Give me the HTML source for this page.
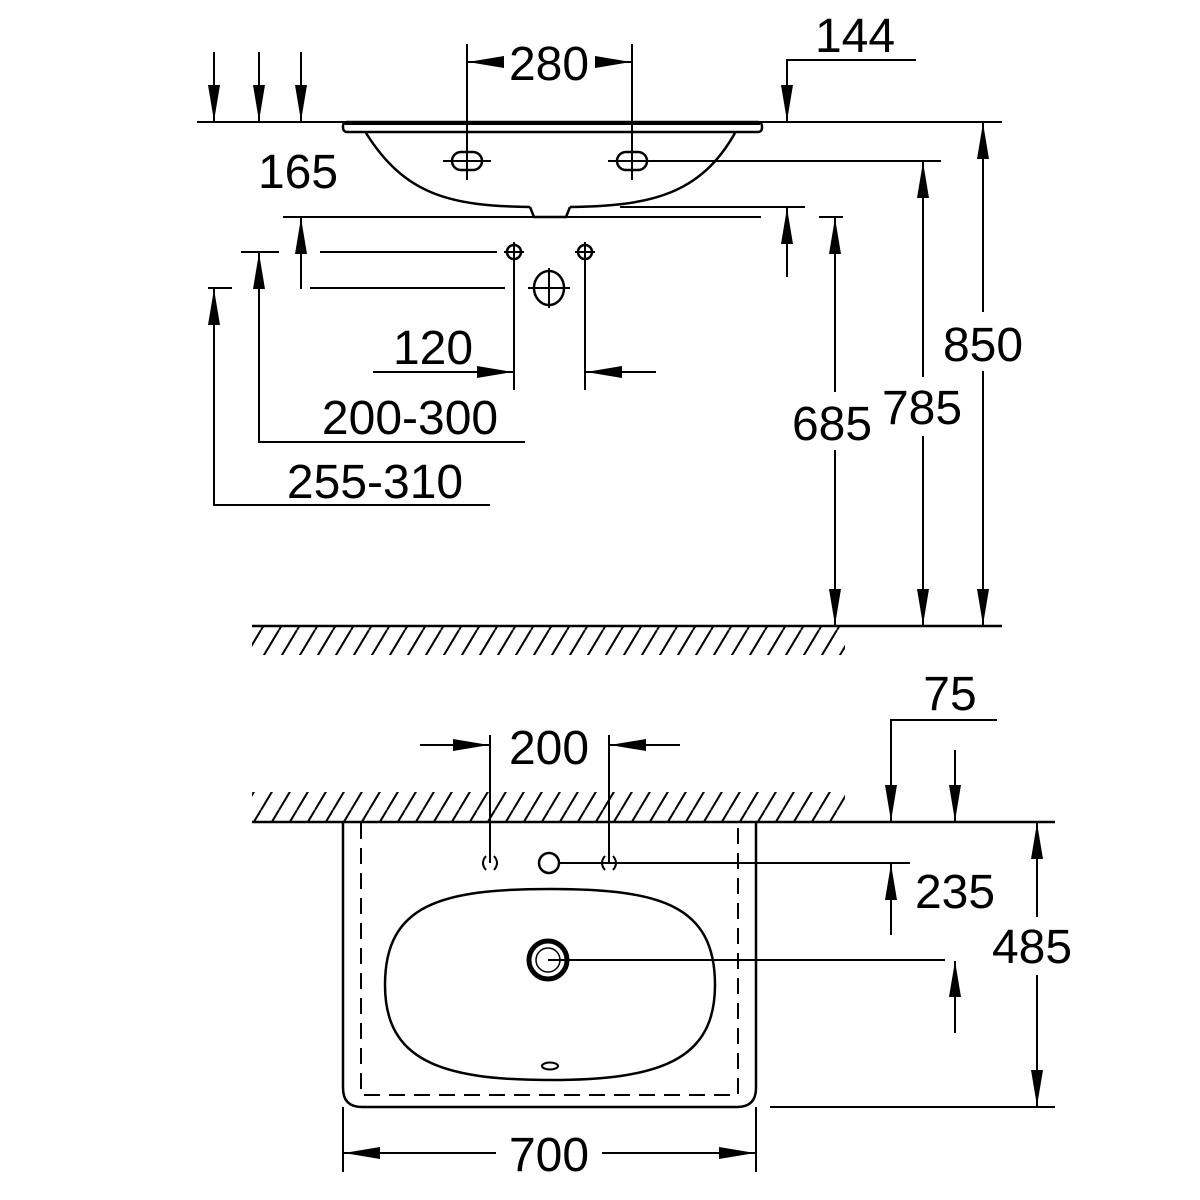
<!DOCTYPE html>
<html><head><style>
html,body{margin:0;padding:0;background:#fff;}
svg{display:block;}
text{font-family:"Liberation Sans",Arial,sans-serif;font-size:48px;fill:#000;text-anchor:middle;}
</style></head><body>
<svg width="1200" height="1200" viewBox="0 0 1200 1200" xmlns="http://www.w3.org/2000/svg">
<defs>
<marker id="a" viewBox="0 0 36 12" refX="36" refY="6" markerWidth="36" markerHeight="12" markerUnits="userSpaceOnUse" orient="auto">
<path d="M0,0 L36,6 L0,12 Z" fill="#000"/>
</marker>
<pattern id="h" width="18" height="30" patternUnits="userSpaceOnUse">
<line x1="-9" y1="30" x2="9" y2="0" stroke="#000" stroke-width="2"/>
<line x1="9" y1="30" x2="27" y2="0" stroke="#000" stroke-width="2"/>
</pattern>
</defs>
<g stroke="#000" stroke-width="2" fill="none">
<line x1="197" y1="122" x2="1002" y2="122"/>
<line x1="214" y1="52" x2="214" y2="121" marker-end="url(#a)"/>
<line x1="259" y1="52" x2="259" y2="121" marker-end="url(#a)"/>
<line x1="301" y1="52" x2="301" y2="121" marker-end="url(#a)"/>
<rect x="343" y="122" width="419" height="10" rx="4" fill="#fff" stroke-width="2.5"/>
<line x1="345" y1="123.5" x2="760" y2="123.5" stroke-width="3"/>
<path d="M366,133 C405,195 450,206 530,207 M570,207 C650,206 700,195 735,133" stroke-width="2.5"/>
<path d="M530,207 L534,217 L566,217 L570,207" stroke-width="2.5"/>
<line x1="467" y1="44" x2="467" y2="180"/>
<line x1="632" y1="44" x2="632" y2="180"/>
<line x1="503" y1="62" x2="468" y2="62" marker-end="url(#a)"/>
<line x1="596" y1="62" x2="631" y2="62" marker-end="url(#a)"/>
<rect x="452" y="152" width="30" height="18" rx="9" stroke-width="2.5"/>
<rect x="617" y="152" width="30" height="18" rx="9" stroke-width="2.5"/>
<line x1="443" y1="161" x2="491" y2="161"/>
<line x1="608" y1="161" x2="941" y2="161"/>
<polyline points="916,60 787,60 787,70"/>
<line x1="787" y1="60" x2="787" y2="121" marker-end="url(#a)"/>
<line x1="620" y1="207" x2="805" y2="207"/>
<line x1="283" y1="217" x2="761" y2="217"/>
<line x1="301" y1="289" x2="301" y2="218" marker-end="url(#a)"/>
<line x1="787" y1="277" x2="787" y2="208" marker-end="url(#a)"/>
<circle cx="514" cy="252" r="7" stroke-width="2.5"/>
<circle cx="585" cy="252" r="7" stroke-width="2.5"/>
<line x1="504" y1="252" x2="524" y2="252"/><line x1="575" y1="252" x2="595" y2="252"/>
<line x1="585" y1="242" x2="585" y2="390"/>
<line x1="514" y1="242" x2="514" y2="390"/>
<ellipse cx="549" cy="288" rx="15" ry="17" stroke-width="2.5"/>
<line x1="549" y1="268" x2="549" y2="308"/><line x1="528" y1="288" x2="570" y2="288"/>
<line x1="320" y1="252" x2="497" y2="252"/>
<line x1="310" y1="288" x2="505" y2="288"/>
<line x1="241" y1="252" x2="279" y2="252"/>
<line x1="208" y1="288" x2="232" y2="288"/>
<line x1="373" y1="372" x2="513" y2="372" marker-end="url(#a)"/>
<line x1="656" y1="372" x2="586" y2="372" marker-end="url(#a)"/>
<polyline points="525,442 259,442 259,300"/>
<line x1="259" y1="300" x2="259" y2="253" marker-end="url(#a)"/>
<polyline points="490,505 214,505 214,330"/>
<line x1="214" y1="330" x2="214" y2="289" marker-end="url(#a)"/>
<line x1="819" y1="217" x2="843" y2="217"/>
<line x1="835" y1="392" x2="835" y2="218" marker-end="url(#a)"/>
<line x1="835" y1="450" x2="835" y2="625" marker-end="url(#a)"/>
<line x1="923" y1="377" x2="923" y2="162" marker-end="url(#a)"/>
<line x1="923" y1="436" x2="923" y2="625" marker-end="url(#a)"/>
<line x1="983" y1="312" x2="983" y2="123" marker-end="url(#a)"/>
<line x1="983" y1="371" x2="983" y2="625" marker-end="url(#a)"/>
<rect x="252" y="627" width="593" height="28" fill="url(#h)" stroke="none"/>
<line x1="252" y1="626" x2="1002" y2="626" stroke-width="2.5"/>

<rect x="252" y="792" width="593" height="29" fill="url(#h)" stroke="none"/>
<line x1="252" y1="822" x2="1055" y2="822" stroke-width="2.5"/>
<path d="M343,823 L343,1088 Q343,1107 362,1107 L737,1107 Q756,1107 756,1088 L756,823" stroke-width="2.5"/>
<path d="M361,823 L361,1095 L738,1095 L738,823" stroke-dasharray="16,9"/>
<path d="M550,889 C660,889 715,905 715,985 C715,1060 660,1080 550,1080 C440,1080 385,1060 385,985 C385,905 440,889 550,889 Z" stroke-width="2.5"/>
<circle cx="548" cy="960" r="19" stroke-width="5"/>
<circle cx="548" cy="960" r="12" stroke-width="1.5"/>
<ellipse cx="550" cy="1066" rx="8" ry="3.5" stroke-width="2"/>
<circle cx="549" cy="863" r="10" stroke-width="2.5"/>
<path d="M486,856 Q480,863 486,870 M494,856 Q500,863 494,870 M605,856 Q599,863 605,870 M613,856 Q619,863 613,870"/>
<line x1="490" y1="735" x2="490" y2="863"/>
<line x1="609" y1="735" x2="609" y2="863"/>
<line x1="420" y1="745" x2="489" y2="745" marker-end="url(#a)"/>
<line x1="680" y1="745" x2="610" y2="745" marker-end="url(#a)"/>
<line x1="559" y1="863" x2="910" y2="863"/>
<line x1="548" y1="960" x2="945" y2="960"/>
<line x1="891" y1="935" x2="891" y2="864" marker-end="url(#a)"/>
<line x1="955" y1="1033" x2="955" y2="961" marker-end="url(#a)"/>
<polyline points="997,720 891,720 891,730"/>
<line x1="891" y1="720" x2="891" y2="821" marker-end="url(#a)"/>
<line x1="955" y1="750" x2="955" y2="821" marker-end="url(#a)"/>
<line x1="770" y1="1107" x2="1055" y2="1107"/>
<line x1="1037" y1="917" x2="1037" y2="823" marker-end="url(#a)"/>
<line x1="1037" y1="975" x2="1037" y2="1106" marker-end="url(#a)"/>
<line x1="343" y1="1107" x2="343" y2="1172"/>
<line x1="756" y1="1107" x2="756" y2="1172"/>
<line x1="496" y1="1153" x2="344" y2="1153" marker-end="url(#a)"/>
<line x1="602" y1="1153" x2="755" y2="1153" marker-end="url(#a)"/>
</g>
<text x="549" y="80">280</text>
<text x="855" y="52">144</text>
<text x="298" y="188">165</text>
<text x="433" y="364">120</text>
<text x="410" y="434">200-300</text>
<text x="375" y="498">255-310</text>
<text x="832" y="440">685</text>
<text x="922" y="424">785</text>
<text x="983" y="361">850</text>
<text x="549" y="764">200</text>
<text x="950" y="710">75</text>
<text x="955" y="908">235</text>
<text x="1032" y="963">485</text>
<text x="549" y="1171">700</text>
</svg>
</body></html>
